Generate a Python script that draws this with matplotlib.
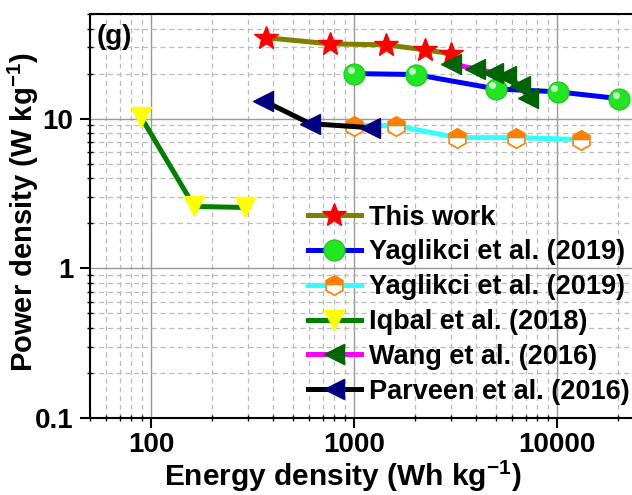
import matplotlib
matplotlib.use("Agg")
import matplotlib.pyplot as plt
from matplotlib.ticker import LogLocator, FixedLocator, NullFormatter
from matplotlib.transforms import offset_copy

plt.rcParams['font.family'] = ['Liberation Sans', 'DejaVu Sans']
plt.rcParams['font.weight'] = 'bold'
plt.rcParams['mathtext.fontset'] = 'custom'
plt.rcParams['mathtext.rm'] = 'Liberation Sans:bold'
plt.rcParams['mathtext.bf'] = 'Liberation Sans:bold'

# Data (Energy density Wh/kg, Power density W/kg)
this_E = [369, 762, 1438, 2240, 3006]
this_P = [34.7, 31.6, 31.1, 28.8, 27.1]

yag1_E = [1000, 2018, 5000, 10100, 20200]
yag1_P = [20.0, 19.7, 15.8, 15.1, 13.6]

yag2_E = [1000, 1610, 3213, 6280, 13130]
yag2_P = [8.98, 8.98, 7.47, 7.47, 7.25]

iqbal_E = [89, 163, 290]
iqbal_P = [10.3, 2.59, 2.55]

wang_E = [3004, 3946, 4840, 5610, 6580, 7200]
wang_P = [23.3, 21.5, 20.3, 19.4, 16.6, 13.8]

parv_E = [357, 607, 1199]
parv_P = [13.2, 9.26, 8.7]

labels = ["This work", "Yaglikci et al. (2019)", "Yaglikci et al. (2019)",
          "Iqbal et al. (2018)", "Wang et al. (2016)", "Parveen et al. (2016)"]

fig = plt.figure(figsize=(6.32, 4.95), dpi=100)
ax = fig.add_axes([90/632, 77/495, 542/632, 404/495])

lw = 3.6
ax.plot(this_E, this_P, '-', color='#808000', lw=lw, marker='*', ms=18,
        mfc='red', mec='red', label=labels[0], zorder=5)
ax.plot(yag1_E, yag1_P, '-', color='#0000ff', lw=lw, marker='o', ms=15,
        mfc='#22e622', mec='#22cc22', label=labels[1], zorder=4)
# highlight on balls
hl = offset_copy(ax.transData, fig=fig, x=-2.5, y=2.5, units='points')
ax.plot(yag1_E, yag1_P, ls='none', marker='o', ms=5, mfc='#d8ffd8', mec='none',
        alpha=0.9, zorder=4.1, transform=hl)
ax.plot(yag2_E, yag2_P, '-', color='#33ffff', lw=lw, marker='h', ms=14,
        mfc='#ff8000', mfcalt='white', fillstyle='top', mec='#ff8000', mew=1.2,
        label=labels[2], zorder=4)
ax.plot(iqbal_E, iqbal_P, '-', color='#008000', lw=lw, marker='v', ms=15,
        mfc='#ffff00', mec='#ffff00', label=labels[3], zorder=4)
ax.plot(wang_E, wang_P, '-', color='#ff00ff', lw=lw, marker='<', ms=15,
        mfc='#006400', mec='#006400', label=labels[4], zorder=6)
ax.plot(parv_E, parv_P, '-', color='black', lw=lw, marker='<', ms=15,
        mfc='#000080', mec='#000080', label=labels[5], zorder=4)

ax.set_xscale('log')
ax.set_yscale('log')
ax.set_xlim(50, 23400)
ax.set_ylim(0.1, 50)

ax.xaxis.set_major_locator(FixedLocator([100, 1000, 10000]))
ax.yaxis.set_major_locator(FixedLocator([0.1, 1, 10]))
ax.xaxis.set_minor_locator(LogLocator(base=10, subs=range(2, 10), numticks=20))
ax.yaxis.set_minor_locator(LogLocator(base=10, subs=range(2, 10), numticks=20))
ax.xaxis.set_minor_formatter(NullFormatter())
ax.yaxis.set_minor_formatter(NullFormatter())
ax.set_xticklabels(['100', '1000', '10000'])
ax.set_yticklabels(['0.1', '1', '10'])

ax.grid(True, which='major', color='#999999', lw=1.0, ls='-')
ax.grid(True, which='minor', color='#bbbbbb', lw=0.9, ls=(0, (4, 3)))
ax.set_axisbelow(True)

ax.tick_params(which='major', direction='out', length=7, width=1.5,
               labelsize=20, pad=3)
ax.tick_params(axis='y', which='major', pad=5)
ax.tick_params(which='minor', direction='inout', length=5, width=1.0)
for s in ['left', 'bottom', 'top']:
    ax.spines[s].set_linewidth(1.5)
ax.spines['right'].set_visible(False)

ax.set_xlabel(r'Energy density (Wh kg$^{\mathbf{-1}}$)', fontsize=21.5,
              fontweight='bold')
ax.set_ylabel(r'Power density (W kg$^{\mathbf{-1}}$)', fontsize=21,
              fontweight='bold')
ax.xaxis.set_label_coords((343 - 90) / 542, -0.1)
ax.yaxis.set_label_coords((41 - 90) / 542, 0.51)

ax.text(0.013, 0.975, '(g)', transform=ax.transAxes, fontsize=20,
        fontweight='bold', va='top', ha='left')

leg = ax.legend(loc='upper left', bbox_to_anchor=(0.402, 0.528), frameon=False,
                fontsize=19.5, handlelength=1.95, handletextpad=0.3,
                labelspacing=0.325, borderpad=0, borderaxespad=0)
for t in leg.get_texts():
    t.set_fontweight('bold')

fig.savefig('out.png', dpi=100)
